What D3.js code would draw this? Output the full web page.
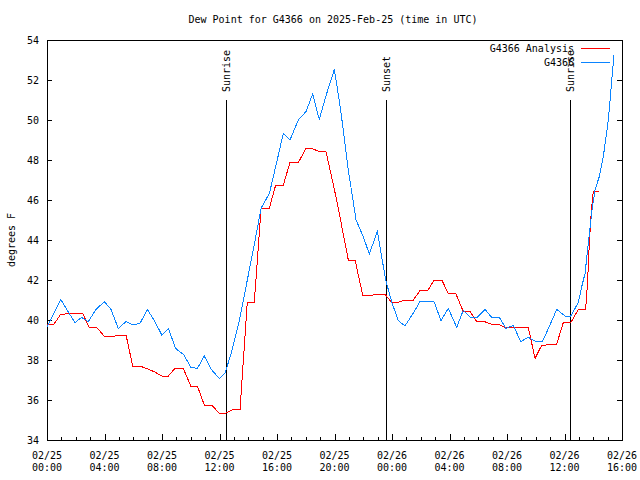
<!DOCTYPE html>
<html><head><meta charset="utf-8">
<script src="https://cdn.jsdelivr.net/npm/d3@7"></script>
<style>
body{margin:0;background:#fff}
svg{display:block}
text{font-family:"DejaVu Sans Mono","Liberation Mono",monospace;font-size:10px;fill:#000}
</style>
</head><body><svg id="c" width="640" height="480"></svg>
<script>
const title = "Dew Point for G4366 on 2025-Feb-25 (time in UTC)";
const yLabel = "degrees F";
const xTickHours = [0,4,8,12,16,20,24,28,32,36,40];
const xTickDates = ["02/25","02/25","02/25","02/25","02/25","02/25","02/26","02/26","02/26","02/26","02/26"];
const xTickTimes = ["00:00","04:00","08:00","12:00","16:00","20:00","00:00","04:00","08:00","12:00","16:00"];
const yTicks = [34,36,38,40,42,44,46,48,50,52,54];
const seriesNames = ["G4366 Analysis","G4366"];
const seriesColors = ["#ff0000","#0a84ff"];

// hours since 2025-02-25 00:00 UTC
const analysisHours = [0,0.49,0.95,1.72,2.48,2.94,3.46,3.97,4.73,5.5,5.96,6.47,7.0,7.5,7.98,8.44,8.9,9.48,10.0,10.46,10.94,11.46,11.99,12.38,12.96,13.43,13.93,14.42,14.89,15.46,15.91,16.44,16.9,17.48,18.02,18.41,18.94,19.41,20.15,20.96,21.43,21.96,22.66,23.51,23.98,24.44,24.9,25.48,25.95,26.48,26.94,27.46,27.92,28.43,28.96,29.43,29.89,30.42,30.89,31.4,31.86,33.48,33.95,34.41,35.46,35.92,36.45,36.96,37.47,37.6,37.73,37.87,38.0,38.42];
const analysisValues = [39.8,39.8,40.28,40.33,40.33,39.63,39.63,39.2,39.2,39.25,37.7,37.7,37.55,37.4,37.2,37.2,37.58,37.58,36.7,36.7,35.75,35.75,35.33,35.33,35.53,35.53,40.87,40.87,45.58,45.58,46.75,46.75,47.87,47.87,48.58,48.58,48.42,48.42,46.0,43.0,43.0,41.25,41.25,41.28,40.88,40.88,41.0,41.0,41.47,41.47,42.0,42.0,41.33,41.33,40.42,40.42,39.92,39.92,39.8,39.8,39.63,39.63,38.08,38.73,38.8,39.88,39.88,40.53,40.53,41.83,43.92,45.5,46.42,46.42];

const obsHours = [0,0.49,0.95,1.48,1.95,2.41,2.87,3.41,3.99,4.45,4.96,5.5,5.96,6.47,6.98,7.51,7.98,8.44,8.95,9.53,10.0,10.46,10.94,11.46,11.99,12.38,12.85,13.38,13.9,14.4,14.9,15.47,15.95,16.44,16.9,17.48,18.02,18.48,18.94,19.46,19.99,20.43,20.96,21.5,22.0,22.42,22.98,23.56,23.98,24.44,24.9,25.44,25.95,26.45,26.92,27.41,27.92,28.5,28.96,29.47,29.93,30.47,30.94,31.47,31.93,32.44,32.95,33.48,33.95,34.48,34.99,35.46,36.03,36.43,36.96,37.2,37.43,37.73,37.9,38.12,38.42,38.7,39.05,39.44];
const obsValues = [39.65,40.35,41.03,40.4,39.87,40.13,39.92,40.53,40.92,40.53,39.58,39.92,39.75,39.83,40.53,39.92,39.25,39.58,38.58,38.25,37.63,37.58,38.2,37.5,37.08,37.33,38.42,39.97,41.87,43.7,45.6,46.33,47.8,49.33,49.0,50.0,50.42,51.3,50.03,51.33,52.53,50.5,47.5,45.0,44.17,43.3,44.42,42.0,40.9,39.97,39.7,40.3,40.92,40.92,40.92,39.97,40.58,39.63,40.5,40.13,40.13,40.53,40.13,40.13,39.58,39.73,38.92,39.13,38.95,38.95,39.75,40.53,40.2,40.2,40.87,41.67,42.33,44.33,45.42,46.5,47.17,48.17,50.0,53.25];

const sunEventNames = ["Sunrise","Sunset","Sunrise"];
const sunEventHours = [12.42, 23.6, 36.4];

const svg = d3.select("#c");
const L = 47, R = 622, T = 40, B = 440;
const x = d3.scaleLinear().domain([0,40]).range([L,R]);
const y = d3.scaleLinear().domain([34,54]).range([B,T]);

// title
svg.append("text").attr("x",333).attr("y",23).attr("text-anchor","middle").text(title);
// y label
svg.append("text").attr("transform","translate(15,240) rotate(-90)").attr("text-anchor","middle").text(yLabel);

// left axis
const gl = svg.append("g").attr("transform",`translate(${L},0)`)
  .call(d3.axisLeft(y).tickValues(yTicks).tickFormat(d3.format("d")).tickSizeInner(-5).tickSizeOuter(0).tickPadding(8));
// right axis
const gr = svg.append("g").attr("transform",`translate(${R},0)`)
  .call(d3.axisRight(y).tickValues(yTicks).tickFormat("").tickSizeInner(-5).tickSizeOuter(0));
// bottom minor
const gbm = svg.append("g").attr("transform",`translate(0,${B})`)
  .call(d3.axisBottom(x).tickValues(d3.range(0,41,1)).tickFormat("").tickSizeInner(-3).tickSizeOuter(0));
// bottom major
const gb = svg.append("g").attr("transform",`translate(0,${B})`)
  .call(d3.axisBottom(x).tickValues(xTickHours).tickFormat("").tickSizeInner(-6).tickSizeOuter(0));
[gl,gr,gbm,gb].forEach(g=>{
  g.select(".domain").remove();
  g.attr("font-family",null).attr("font-size",null);
  g.selectAll("line").attr("stroke","#000").attr("shape-rendering","crispEdges");
});

// x labels
const xl = svg.append("g");
xl.selectAll("text.d").data(xTickHours).join("text").attr("class","d")
  .attr("x",d=>x(d)).attr("y",459).attr("text-anchor","middle").text((d,i)=>xTickDates[i]);
xl.selectAll("text.t").data(xTickHours).join("text").attr("class","t")
  .attr("x",d=>x(d)).attr("y",471).attr("text-anchor","middle").text((d,i)=>xTickTimes[i]);

// border
svg.append("rect").attr("x",L+0.5).attr("y",T+0.5).attr("width",R-L).attr("height",B-T)
  .attr("fill","none").attr("stroke","#000").attr("shape-rendering","crispEdges");

// sun events
const se = svg.append("g");
se.selectAll("line").data(sunEventHours).join("line")
  .attr("x1",d=>Math.round(x(d))+0.5).attr("x2",d=>Math.round(x(d))+0.5)
  .attr("y1",100).attr("y2",B).attr("stroke","#000").attr("shape-rendering","crispEdges");
se.selectAll("text").data(sunEventHours).join("text")
  .attr("transform",d=>`translate(${Math.round(x(d))+4},92) rotate(-90)`)
  .attr("text-anchor","start").text((d,i)=>sunEventNames[i]);

// series
const line = d3.line().x(d=>x(d[0])).y(d=>y(d[1]));
const analysis = analysisHours.map((h,i)=>[h,analysisValues[i]]);
const obs = obsHours.map((h,i)=>[h,obsValues[i]]);
svg.append("path").datum(analysis).attr("d",line).attr("fill","none")
  .attr("stroke",seriesColors[0]).attr("stroke-width",1).attr("shape-rendering","crispEdges");
svg.append("path").datum(obs).attr("d",line).attr("fill","none")
  .attr("stroke",seriesColors[1]).attr("stroke-width",1).attr("shape-rendering","crispEdges");

// legend
const lg = svg.append("g");
seriesNames.forEach((n,i)=>{
  const yy = 48 + i*14;
  lg.append("text").attr("x",574).attr("y",yy+4).attr("text-anchor","end").text(n);
  lg.append("line").attr("x1",581).attr("x2",610).attr("y1",yy+0.5).attr("y2",yy+0.5)
    .attr("stroke",seriesColors[i]).attr("shape-rendering","crispEdges");
});
</script>
</body></html>
